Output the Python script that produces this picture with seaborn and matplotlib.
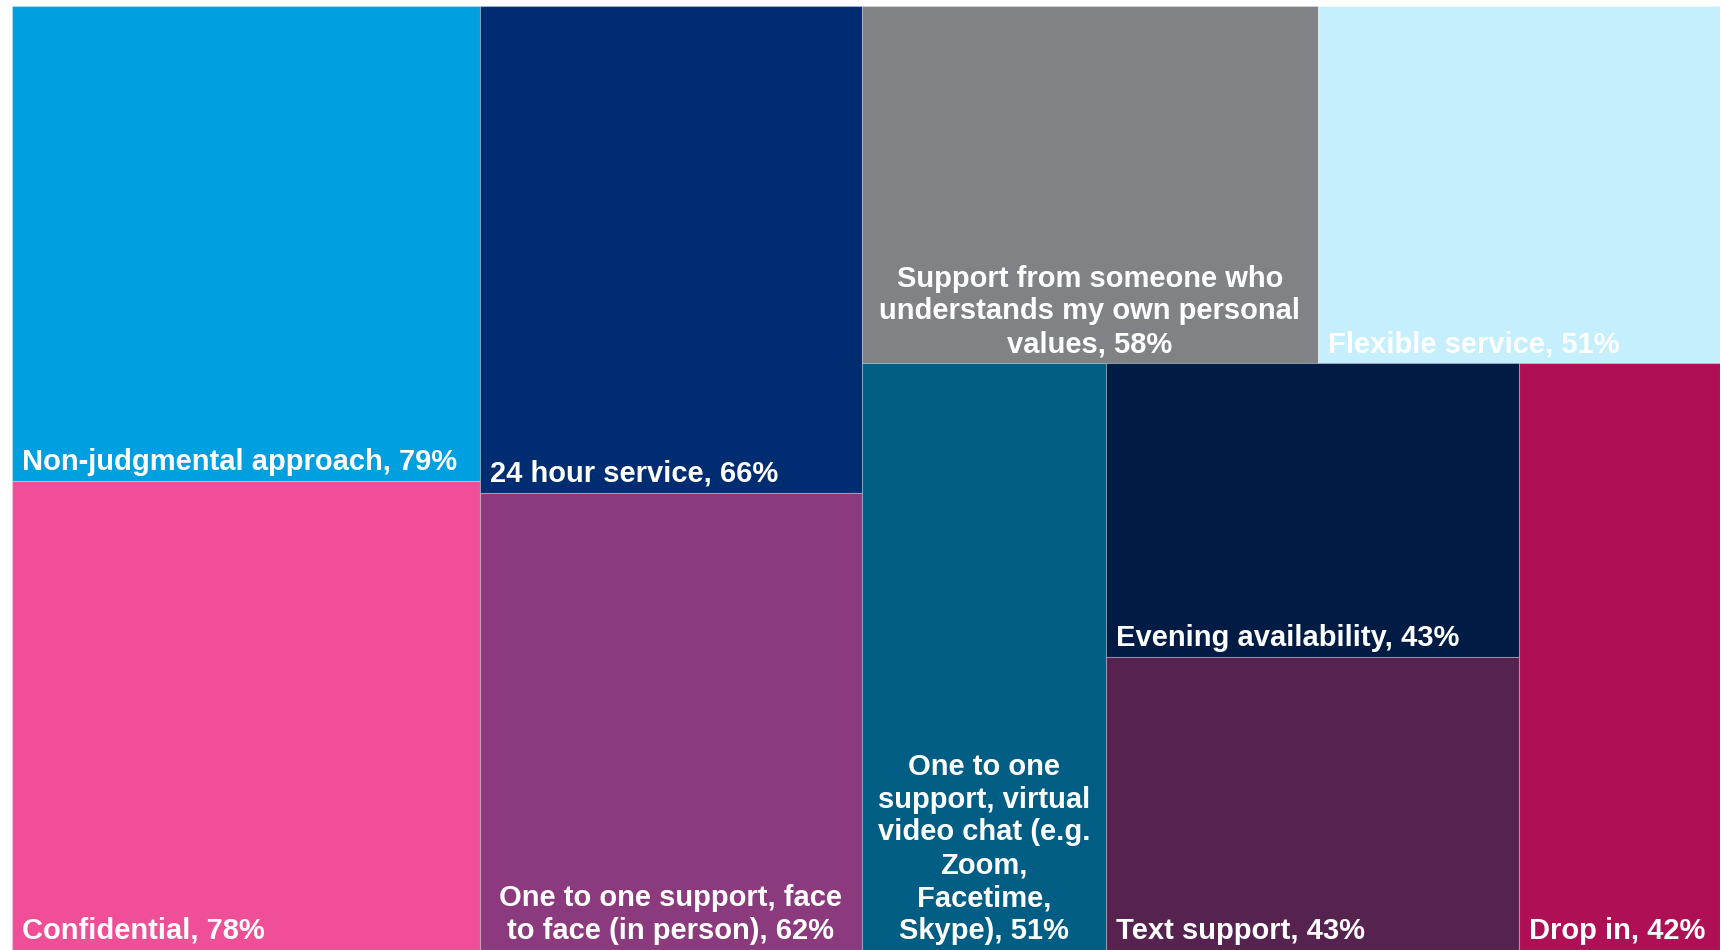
import matplotlib
matplotlib.use("Agg")
import matplotlib.pyplot as plt
from matplotlib.patches import Rectangle
import seaborn as sns

# Survey results: share of respondents valuing each service feature
features = [
    "Non-judgmental approach",
    "Confidential",
    "24 hour service",
    "One to one support, face\nto face (in person)",
    "Support from someone who\nunderstands my own personal\nvalues",
    "Flexible service",
    "One to one\nsupport, virtual\nvideo chat (e.g.\nZoom,\nFacetime,\nSkype)",
    "Evening availability",
    "Text support",
    "Drop in",
]
percent = [79, 78, 66, 62, 58, 51, 51, 43, 43, 42]
colors = [
    "#009FE0", "#F04F98", "#002D72", "#8B3A7E", "#818286",
    "#C6EFFD", "#005E85", "#001C44", "#56224F", "#AF0F55",
]
label_align = ["left", "left", "left", "center", "center",
               "left", "center", "left", "left", "left"]

# Number of tiles placed in each strip of the treemap
strip_counts = [2, 2, 2, 1, 2, 1]


def strip_treemap(areas, counts, x, y, dx, dy):
    """Lay tiles out in strips along the shorter side of the free region."""
    rects = []
    i = 0
    for n in counts:
        group = areas[i:i + n]
        i += n
        covered = sum(group)
        if dx >= dy:
            # vertical strip at the left edge
            w = covered / dy
            yy = y
            for a in group:
                h = a / w
                rects.append((x, yy, w, h))
                yy += h
            x += w
            dx -= w
        else:
            # horizontal strip at the top edge
            h = covered / dx
            xx = x
            for a in group:
                w = a / h
                rects.append((xx, y, w, h))
                xx += w
            y += h
            dy -= h
    return rects


W, H = 1708.0, 944.0
total = sum(percent)
areas = [p * W * H / total for p in percent]
rects = strip_treemap(areas, strip_counts, 0.0, 0.0, W, H)

sns.set_theme(style="white")
plt.rcParams["font.family"] = ["Liberation Sans", "DejaVu Sans"]

fig = plt.figure(figsize=(17.21, 9.5), dpi=100)
ax = fig.add_axes([12 / 1721, 0, 1708 / 1721, 944 / 950])
ax.set_xlim(0, W)
ax.set_ylim(H, 0)
ax.set_axis_off()

for (x, y, dx, dy), name, val, col, al in zip(rects, features, percent, colors, label_align):
    ax.add_patch(Rectangle((x, y), dx, dy, facecolor=col,
                           edgecolor=(1, 1, 1, 0.25), linewidth=0.8))
    tx = x + 10 if al == "left" else x + dx / 2
    ax.text(tx, y + dy - 5, f"{name}, {val}%", ha=al, va="bottom",
            multialignment="center", color="white", fontsize=21,
            fontweight="bold", linespacing=1.22)

fig.savefig("out.png", dpi=100, facecolor="white")
